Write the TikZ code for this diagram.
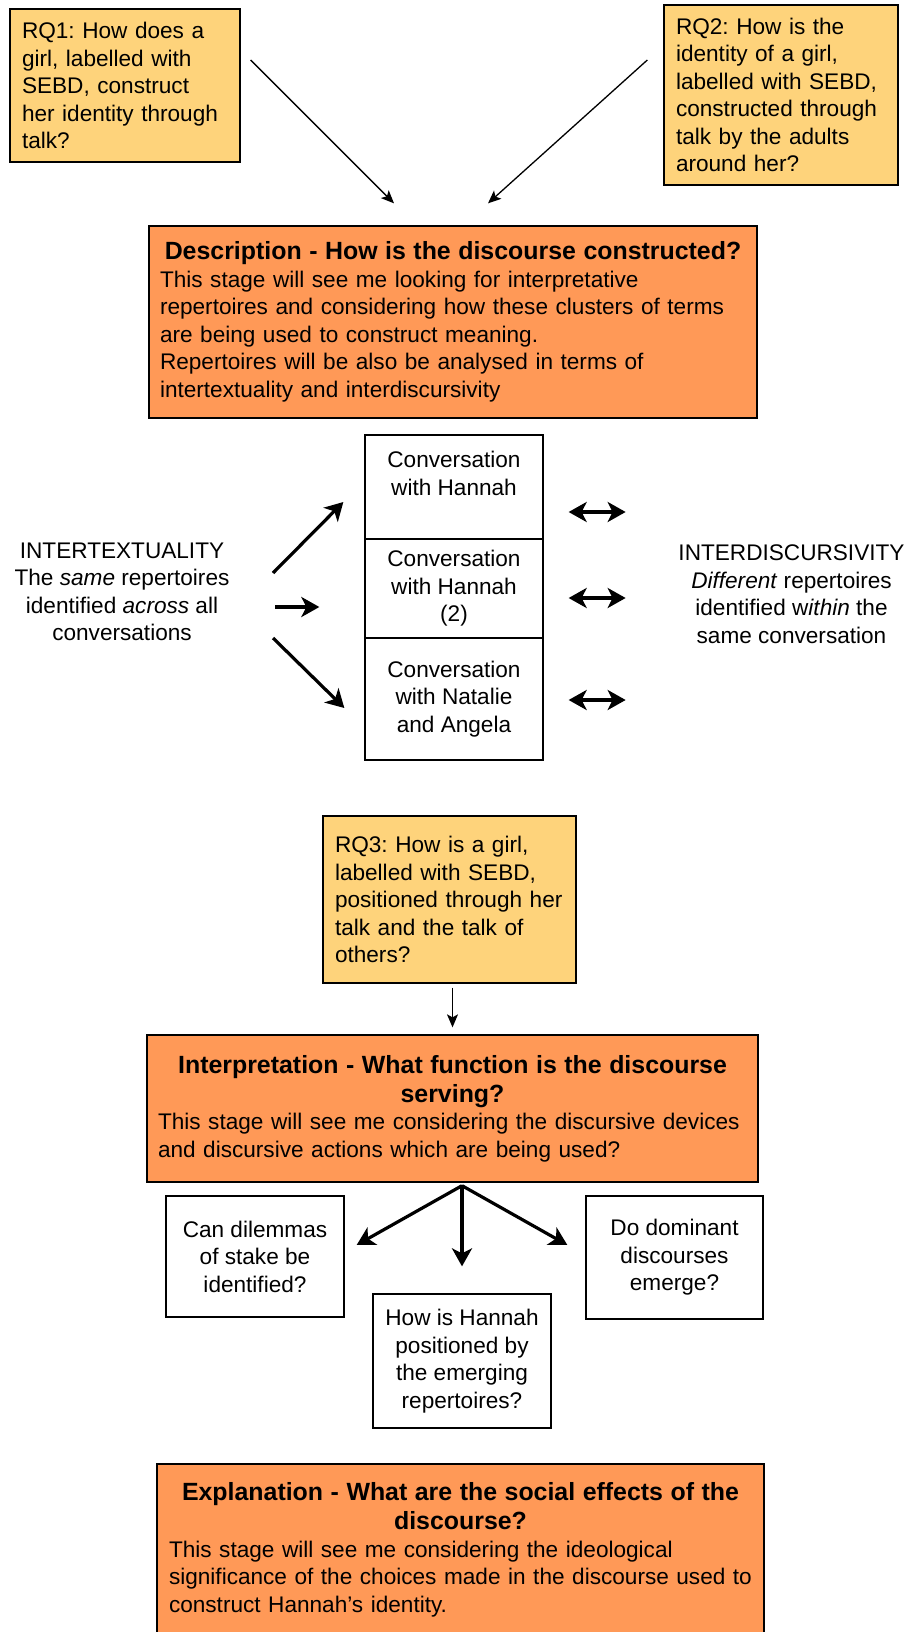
\documentclass[tikz,border=0pt]{standalone}
\usepackage{fontspec}
\setmainfont{Liberation Sans}
\usetikzlibrary{arrows.meta}

\definecolor{rqfill}{RGB}{254,211,123}
\definecolor{stagefill}{RGB}{255,153,87}
\newcommand{\txtsize}{\fontsize{22.6}{27.5}\selectfont}
\newcommand{\headsize}{\fontsize{24.9}{29}\selectfont\bfseries}
\frenchspacing

\begin{document}
\begin{tikzpicture}[x=1pt, y=-1pt, font=\txtsize,
    rqbox/.style={draw, fill=rqfill, line width=1.3pt, inner xsep=12pt, inner ysep=0pt, align=left},
    stagebox/.style={draw, fill=stagefill, line width=1.3pt, inner xsep=11pt, inner ysep=0pt, align=left},
    plainbox/.style={draw, line width=1.3pt, inner sep=0pt, align=center},
    thinarrow/.style={-{Stealth[length=13pt, width=11pt, inset=3pt]}, line width=1.3pt},
    thickarrow/.style={-{Stealth[length=18pt, width=20pt, inset=5pt]}, line width=3.2pt},
    bothways/.style={{Stealth[length=18pt, width=20pt, inset=5pt]}-{Stealth[length=18pt, width=20pt, inset=5pt]}, line width=3.2pt}]
  \useasboundingbox (0,0) rectangle (912,1632);

  % research questions and description stage
  \node[rqbox, minimum width=230pt, minimum height=153pt, text width=206pt] (rq1) at (125,85.5)
    {RQ1: How does a\\girl, labelled with\\SEBD, construct\\her identity through\\talk?};
  \node[rqbox, minimum width=234pt, minimum height=180pt, text width=210pt] (rq2) at (781,95)
    {RQ2: How is the\\identity of a girl,\\labelled with SEBD,\\constructed through\\talk by the adults\\around her?};
  \node[stagebox, minimum width=608pt, minimum height=192pt, text width=586pt] (desc) at (453,322)
    {{\centering\headsize Description - How is the discourse constructed?\par}
     This stage will see me looking for interpretative\\
     repertoires and considering how these clusters of terms\\
     are being used to construct meaning.\\
     Repertoires will be also be analysed in terms of\\
     intertextuality and interdiscursivity};
  \draw [thinarrow] ([shift={(10,-25.5)}]rq1.east) -- ([shift={(-59,-22)}]desc.north);
  \draw [thinarrow] ([shift={(-16,-35)}]rq2.west) -- ([shift={(35,-22)}]desc.north);

  % conversations
  \node[plainbox, minimum width=178pt, minimum height=104pt] (conv1) at (454,487)
    {Conversation\\with Hannah\\ \mbox{}};
  \node[plainbox, minimum width=178pt, minimum height=99pt] (conv2) at (454,588.5)
    {Conversation\\with Hannah\\(2)};
  \node[plainbox, minimum width=178pt, minimum height=122pt] (conv3) at (454,699)
    {Conversation\\with Natalie\\and Angela};
  \node[align=center, inner sep=0pt] (intertext) at (122,592)
    {INTERTEXTUALITY\\The \textit{same} repertoires\\identified \textit{across} all\\conversations};
  \node[align=center, inner sep=0pt] (interdisc) at (791.5,594)
    {INTERDISCURSIVITY\\\textit{Different} repertoires\\identified w\textit{ithin} the\\same conversation};
  \coordinate (across1) at (273,573);
  \coordinate (across2) at (275,607);
  \coordinate (across3) at (273,638);
  \draw [thickarrow] (across1) -- ([shift={(-21,15)}]conv1.west);
  \draw [thickarrow] (across2) -- ([shift={(-45,18.5)}]conv2.west);
  \draw [thickarrow] (across3) -- ([shift={(-20,9)}]conv3.west);
  \draw [bothways] ([shift={(25,25)}]conv1.east) -- ++(57,0);
  \draw [bothways] ([shift={(25,9.5)}]conv2.east) -- ++(57,0);
  \draw [bothways] ([shift={(25,1)}]conv3.east) -- ++(57,0);

  % interpretation stage
  \node[rqbox, minimum width=253pt, minimum height=167pt, text width=229pt] (rq3) at (449.5,899.5)
    {RQ3: How is a girl,\\labelled with SEBD,\\positioned through her\\talk and the talk of\\others?};
  \node[stagebox, minimum width=611pt, minimum height=147pt, text width=589pt] (interp) at (452.5,1108.5)
    {{\centering\headsize Interpretation - What function is the discourse\\serving?\par}
     This stage will see me considering the discursive devices\\
     and discursive actions which are being used?};
  \draw [thinarrow, shorten <=4pt, shorten >=7pt] (rq3.south -| interp.north) -- (interp.north);

  \node[plainbox, minimum width=178pt, minimum height=121pt] (can) at (255,1256.5)
    {Can dilemmas\\of stake be\\identified?};
  \node[plainbox, minimum width=178pt, minimum height=134pt] (how) at (462,1361)
    {How is Hannah\\positioned by\\the emerging\\repertoires?};
  \node[plainbox, minimum width=177pt, minimum height=123pt] (do) at (674.5,1257.5)
    {Do dominant\\discourses\\emerge?};
  \coordinate (fork) at ([shift={(9.5,3)}]interp.south);
  \draw [thickarrow] (fork) -- ([shift={(12,-11.5)}]can.east);
  \draw [thickarrow] (fork) -- ([shift={(0,-27)}]how.north);
  \draw [thickarrow] (fork) -- ([shift={(-18,-12.5)}]do.west);

  % explanation stage
  \node[stagebox, minimum width=607pt, minimum height=172pt, text width=583pt] (expl) at (460.5,1550)
    {{\centering\headsize Explanation - What are the social effects of the\\discourse?\par}
     This stage will see me considering the ideological\\
     significance of the choices made in the discourse used to\\
     construct Hannah’s identity.};
\end{tikzpicture}
\end{document}
